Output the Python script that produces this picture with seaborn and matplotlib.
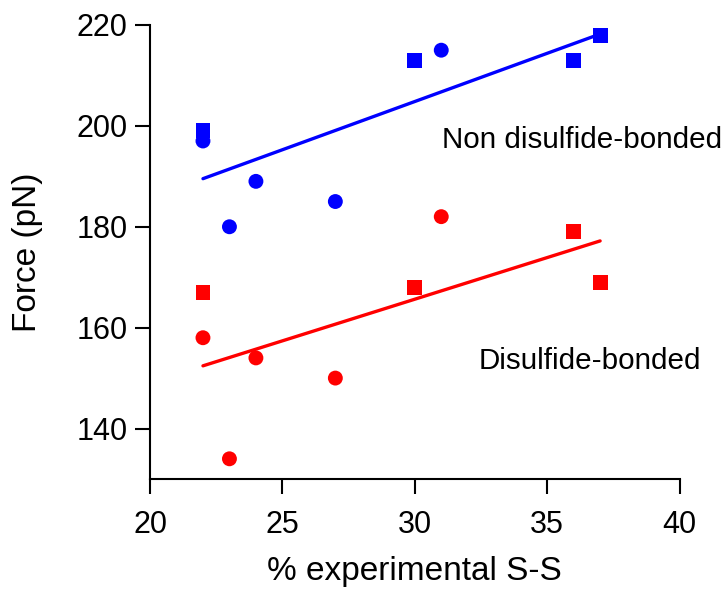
import matplotlib
matplotlib.use("Agg")
import matplotlib.pyplot as plt
import seaborn as sns
import pandas as pd

# Data
ss_percent = [22, 22, 24, 23, 27, 30, 31, 36, 37]
marker_kind = ["square", "circle", "circle", "circle", "circle", "square", "circle", "square", "square"]
force_non_disulfide = [199, 197, 189, 180, 185, 213, 215, 213, 218]
force_disulfide = [167, 158, 154, 134, 150, 168, 182, 179, 169]
group_labels = ["Non disulfide-bonded", "Disulfide-bonded"]
x_ticks = [20, 25, 30, 35, 40]
y_ticks = [140, 160, 180, 200, 220]

df = pd.concat([
    pd.DataFrame({"ss": ss_percent, "force": force_non_disulfide,
                  "kind": marker_kind, "group": group_labels[0]}),
    pd.DataFrame({"ss": ss_percent, "force": force_disulfide,
                  "kind": marker_kind, "group": group_labels[1]}),
], ignore_index=True)

sns.set_theme(style="ticks")
plt.rcParams["font.family"] = ["Liberation Sans", "DejaVu Sans"]
plt.rcParams["text.color"] = "black"
plt.rcParams["axes.labelcolor"] = "black"

fig = plt.figure(figsize=(7.24, 5.89), dpi=100)
ax = fig.add_axes([0.2072, 0.1868, 0.7314, 0.7708])

palette = {group_labels[0]: "#0000ff", group_labels[1]: "#ff0000"}
markers = {"square": "s", "circle": "o"}

sns.scatterplot(data=df, x="ss", y="force", hue="group", style="kind",
                palette=palette, markers=markers, s=115, linewidth=0,
                legend=False, ax=ax, zorder=3)

for g in group_labels:
    sub = df[df["group"] == g]
    sns.regplot(data=sub, x="ss", y="force", scatter=False, ci=None,
                color=palette[g], line_kws={"linewidth": 2.4}, truncate=True, ax=ax)

ax.set_xlim(20, 40)
ax.set_ylim(130, 220)
ax.set_xticks(x_ticks)
ax.set_yticks(y_ticks)
ax.set_xlabel("% experimental S-S", fontsize=24, labelpad=12)
ax.set_ylabel("Force (pN)", fontsize=24, labelpad=24)
ax.tick_params(axis="both", labelsize=22, length=11, width=1.5, direction="out",
               color="black", labelcolor="black")
ax.tick_params(axis="x", pad=11)
ax.tick_params(axis="y", pad=5)
for side in ["left", "bottom"]:
    ax.spines[side].set_linewidth(1.5)
    ax.spines[side].set_color("black")
ax.spines["top"].set_visible(False)
ax.spines["right"].set_visible(False)

ax.text(31.03, 195.7, group_labels[0], fontsize=21.3, va="baseline", ha="left", color="black")
ax.text(32.43, 151.75, group_labels[1], fontsize=21.3, va="baseline", ha="left", color="black")

fig.savefig("out.png", dpi=100)
